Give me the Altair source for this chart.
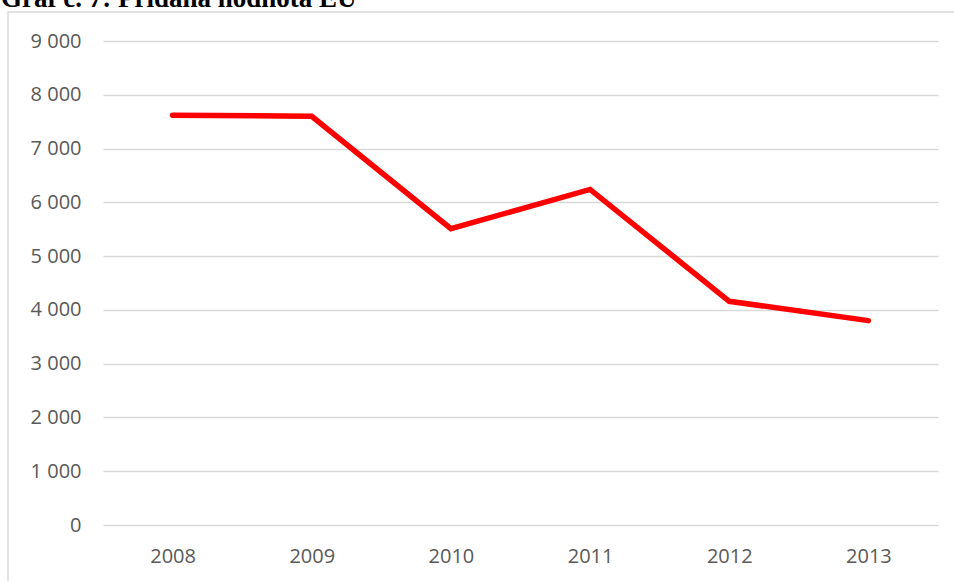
import altair as alt
import pandas as pd

years = ["2008", "2009", "2010", "2011", "2012", "2013"]
values = [7620, 7600, 5510, 6240, 4160, 3800]
title_text = "Graf č.  7: Přidaná hodnota EU"

df = pd.DataFrame({"year": years, "value": values})

W, H = 835, 484

base = alt.Chart(df)

line = base.mark_line(color="#ff0000", strokeWidth=5.5, strokeCap="round", strokeJoin="miter").encode(
    x=alt.X("year:O", sort=years,
            scale=alt.Scale(type="point", padding=0.5),
            axis=alt.Axis(title=None, labelAngle=0, ticks=False, domain=False, grid=False,
                          labelPadding=21, labelFont="Open Sans", labelFontSize=20,
                          labelColor="#595959")),
    y=alt.Y("value:Q", scale=alt.Scale(domain=[0, 9000], nice=False),
            axis=alt.Axis(title=None, values=list(range(0, 9001, 1000)), ticks=False, domain=False,
                          grid=True, gridColor="#d9d9d9", gridWidth=1.3,
                          labelPadding=22, labelFont="Open Sans", labelFontSize=20,
                          labelColor="#595959",
                          labelExpr="replace(format(datum.value, ',d'), ',', ' ')")),
)

frame = alt.Chart(pd.DataFrame({"a": [0]})).mark_rect(
    fill=None, stroke="#d9d9d9", strokeWidth=1.5, clip=False
).encode(
    x=alt.value(-95), x2=alt.value(W + 40), y=alt.value(-29), y2=alt.value(H + 100)
)

title = alt.Chart(pd.DataFrame({"t": [title_text]})).mark_text(
    align="left", baseline="alphabetic", font="Liberation Serif", fontWeight="bold",
    fontSize=27, color="#000000", clip=False
).encode(
    text="t:N", x=alt.value(-102), y=alt.value(-34)
)

chart = alt.layer(frame, line, title).properties(
    width=W, height=H,
    autosize=alt.AutoSizeParams(type="none"),
    padding={"left": 103, "top": 41, "right": 16, "bottom": 56},
    background="white",
).configure_view(stroke=None)

chart.save("out.html", embed_options={"renderer": "svg", "actions": False})
